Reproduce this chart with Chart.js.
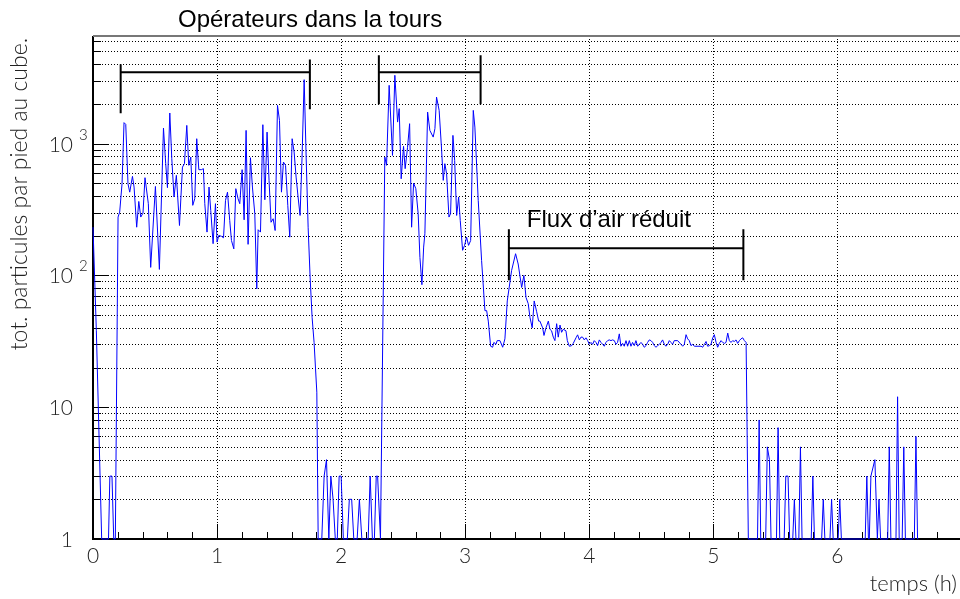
<!DOCTYPE html>
<html>
<head>
<meta charset="utf-8">
<script src="https://cdn.jsdelivr.net/npm/chart.js@4.4.1/dist/chart.umd.min.js"></script>
<style>
  html, body { margin: 0; padding: 0; background: #fff; }
  #wrap { width: 960px; height: 599px; position: relative; }
</style>
</head>
<body>
<div id="wrap"><canvas id="particles"></canvas></div>
<script>
// time (h) and total particle count per cubic foot; 0 = nothing counted
const hours = [
  0, 0.027, 0.07, 0.125, 0.136, 0.153, 0.167, 0.18,
  0.202, 0.215, 0.234, 0.250, 0.264, 0.282, 0.296, 0.318, 0.331, 0.352,
  0.369, 0.385, 0.403, 0.419, 0.446, 0.465, 0.503, 0.535, 0.568, 0.586,
  0.600, 0.619, 0.635, 0.653, 0.672, 0.697, 0.721, 0.737, 0.756, 0.772,
  0.788, 0.804, 0.820, 0.836, 0.853, 0.874, 0.890, 0.901, 0.919, 0.935,
  0.949, 0.968, 0.987, 1.000, 1.014, 1.035, 1.052, 1.068, 1.084, 1.102,
  1.116, 1.135, 1.151, 1.169, 1.183, 1.202, 1.218, 1.234, 1.250, 1.269,
  1.285, 1.304, 1.320, 1.331, 1.350, 1.369, 1.385, 1.403, 1.419, 1.435,
  1.452, 1.468, 1.487, 1.503, 1.519, 1.535, 1.552, 1.570, 1.586, 1.605,
  1.621, 1.637, 1.653, 1.669, 1.685, 1.702, 1.718, 1.734, 1.750, 1.766,
  1.782, 1.804, 1.815,
  1.844, 1.863, 1.882, 1.901, 1.917, 1.935, 1.953, 1.969, 1.984, 2.000,
  2.018, 2.050, 2.066, 2.085, 2.102, 2.129, 2.147, 2.167, 2.218, 2.234,
  2.252, 2.268, 2.283, 2.294, 2.317,
  2.352, 2.366, 2.387, 2.414, 2.433, 2.455, 2.468, 2.484, 2.503, 2.516,
  2.535, 2.552, 2.568, 2.584, 2.602, 2.621, 2.635, 2.651, 2.665, 2.675,
  2.697, 2.715, 2.742, 2.756, 2.769, 2.790, 2.810, 2.823, 2.836, 2.850,
  2.869, 2.882, 2.901, 2.915, 2.931, 2.947, 2.960, 2.979, 2.995, 3.011,
  3.027, 3.044, 3.065, 3.078, 3.105, 3.132, 3.159, 3.173, 3.186, 3.205,
  3.221, 3.231, 3.248, 3.258, 3.280, 3.302, 3.320, 3.339, 3.374, 3.406,
  3.427, 3.455, 3.473, 3.490, 3.508, 3.522, 3.540, 3.556, 3.576, 3.592,
  3.602, 3.624, 3.635, 3.651, 3.670, 3.683, 3.696, 3.710, 3.723, 3.737,
  3.750, 3.764, 3.777, 3.790, 3.812, 3.823, 3.839, 3.858, 3.871, 3.893,
  3.906, 3.920, 3.933, 3.946, 3.960, 3.973, 3.987, 4.000, 4.014, 4.027,
  4.040, 4.054, 4.067, 4.081, 4.094, 4.108, 4.121, 4.134, 4.148, 4.161,
  4.175, 4.188, 4.202, 4.215, 4.228, 4.242, 4.255, 4.269, 4.282, 4.296,
  4.309, 4.323, 4.336, 4.349, 4.363, 4.376, 4.390, 4.403, 4.417, 4.430,
  4.443, 4.457, 4.470, 4.484, 4.497, 4.511, 4.524, 4.538, 4.551, 4.565,
  4.578, 4.591, 4.605, 4.618, 4.632, 4.645, 4.659, 4.672, 4.685, 4.712,
  4.739, 4.753, 4.766, 4.780, 4.793, 4.806, 4.820, 4.833, 4.847, 4.901,
  4.914, 4.928, 4.941, 4.954, 4.968, 4.981, 4.995, 5.008, 5.022, 5.035,
  5.048, 5.062, 5.075, 5.089, 5.102, 5.116, 5.129, 5.142, 5.156, 5.169,
  5.183, 5.196, 5.210, 5.223, 5.237, 5.250, 5.264, 5.282,
  5.356, 5.369, 5.382, 5.422, 5.435, 5.452, 5.465, 5.509, 5.522, 5.535,
  5.571, 5.584, 5.602, 5.615, 5.640, 5.653, 5.666, 5.689, 5.702, 5.715,
  5.789, 5.802, 5.815, 5.873, 5.886, 5.899, 5.940, 5.953, 5.966, 6.006,
  6.019, 6.032, 6.224, 6.237, 6.250, 6.257, 6.270, 6.302, 6.322, 6.335,
  6.348, 6.405, 6.418, 6.431, 6.472, 6.485, 6.498, 6.522, 6.535, 6.548,
  6.620, 6.633, 6.646, 6.653
];
const counts = [
  232, 38, 0, 0, 3, 3, 0, 0,
  277, 302, 496, 1442, 1399, 496, 428, 564, 468, 232,
  364, 277, 297, 551, 350, 115, 473, 111, 1312, 704,
  463, 1706, 768, 393, 574, 239, 663, 704, 1374, 684,
  790, 340, 382, 1089, 634, 634, 645, 350, 213, 468,
  311, 174, 350, 179, 201, 198, 193, 371, 428, 261,
  184, 159, 455, 382, 350, 634, 264, 1259, 172, 781,
  468, 294, 79, 222, 213, 1391, 375, 1222, 526, 253,
  269, 219, 1950, 1500, 428, 724, 684, 340, 195, 1089,
  862, 557, 393, 285, 790, 3055, 790, 232, 97, 48,
  31, 13, 0,
  0, 3, 4, 0, 3, 2, 0, 0, 3, 3,
  0, 0, 2, 2, 0, 0, 2, 0, 0, 3,
  0, 0, 3, 3, 0,
  790, 684, 2767, 813, 3296, 1456, 1841, 541, 952, 645,
  931, 1416, 232, 501, 455, 294, 137, 85, 164, 207,
  1734, 1259, 1120, 1298, 2254, 1786, 888, 526, 704, 591,
  277, 294, 1154, 745, 285, 393, 261, 155, 169, 195,
  169, 184, 1786, 1334, 371, 130, 54, 54, 45, 29,
  28.5, 31, 30, 32, 32, 28.5, 33, 64, 109, 146,
  122, 81, 100, 68, 61, 48, 40, 64, 53, 45,
  45, 40, 35, 40, 45, 39, 38, 34, 32, 43,
  34, 42, 37, 39, 38, 32, 29, 29.3, 30.5, 33.6,
  35.4, 32.4, 34, 34, 32.4, 33.6, 32, 30, 31, 30,
  32, 31, 29.3, 32.4, 31, 30, 29, 31, 32, 32.4,
  32, 32.4, 32, 30, 31, 36, 29, 30.5, 29, 32,
  29, 32, 29, 31, 29.3, 32, 29, 30, 31, 30,
  28.5, 29.3, 31, 32.4, 32, 31, 29.3, 28.5, 29.3, 30,
  31, 32.4, 30, 29, 30, 32, 31, 30, 32, 32,
  30, 29, 30, 35.5, 33, 32, 29.3, 30, 29, 29,
  28.5, 30, 31.5, 29, 29.3, 30, 33.6, 35.5, 31, 28.5,
  30.5, 32, 31, 30.5, 31, 36.5, 32, 31, 32, 31.5,
  32.4, 30.5, 32, 33, 33.6, 32, 31, 0,
  0, 8, 0, 0, 5, 4, 0, 0, 7, 0,
  0, 3, 3, 0, 0, 2, 0, 0, 5, 0,
  0, 3, 0, 0, 2, 0, 0, 2, 0, 0,
  2, 0, 0, 3, 0, 0, 3, 4, 0, 2,
  0, 0, 5, 0, 0, 12, 0, 0, 5, 0,
  0, 6, 0, 0
];

const yMin = 1;
const yMax = 6550;
const xTicks = [0, 1, 2, 3, 4, 5, 6];
const yTicks = [
  { value: 1, base: '1', exp: '' },
  { value: 10, base: '10', exp: '' },
  { value: 100, base: '10', exp: '2' },
  { value: 1000, base: '10', exp: '3' }
];

const titleText = 'Opérateurs dans la tours';
const xTitle = 'temps (h)';
const yTitle = 'tot. particules par pied au cube.';

// bracket annotations: start/end time, level of the bar, span of each end cap
const brackets = [
  { from: 0.223, to: 1.748, level: 3470, capL: [1700, 3990], capR: [1820, 4350] },
  { from: 2.304, to: 3.124, level: 3470, capL: [1990, 4670], capR: [1990, 4670] },
  { from: 3.352, to: 5.242, level: 161, capL: [92, 224], capR: [92, 224] }
];
const fluxLabel = { text: 'Flux d’air réduit', at: 3.497, level: 232 };

// empty readings sit on the floor of the log axis
const points = hours.map((h, i) => ({ x: h, y: counts[i] > 0 ? counts[i] : yMin }));

const tickFont = '300 21px Lato, "DejaVu Sans", sans-serif';

const frame = {
  id: 'frame',
  beforeDatasetsDraw(chart) {
    const { ctx, chartArea: a, scales: { x, y } } = chart;
    ctx.save();
    // dotted grid
    ctx.strokeStyle = '#000';
    ctx.lineWidth = 1;
    ctx.setLineDash([1, 2]);
    for (let d = 1; d <= 1000; d *= 10) {
      for (let m = 1; m <= 9; m++) {
        const v = d * m;
        if (v <= 1 || v >= y.max) continue;
        const py = Math.round(y.getPixelForValue(v)) + 0.5;
        ctx.beginPath();
        ctx.moveTo(a.left, py);
        ctx.lineTo(a.right, py);
        ctx.stroke();
      }
    }
    xTicks.forEach(t => {
      if (t === 0) return;
      const px = Math.round(x.getPixelForValue(t)) + 0.5;
      ctx.beginPath();
      ctx.moveTo(px, a.top);
      ctx.lineTo(px, a.bottom);
      ctx.stroke();
    });
    ctx.setLineDash([]);

    // tick marks inside the frame
    ctx.lineWidth = 1;
    ctx.strokeStyle = '#000';
    for (let t = 0; t <= x.max + 1e-6; t += 0.2) {
      const px = Math.round(x.getPixelForValue(t)) + 0.5;
      const major = Math.abs(t - Math.round(t)) < 1e-6;
      ctx.beginPath();
      ctx.moveTo(px, a.bottom);
      ctx.lineTo(px, a.bottom - (major ? 15 : 7));
      ctx.stroke();
    }
    for (let d = 1; d <= 1000; d *= 10) {
      for (let m = 1; m <= 9; m++) {
        const v = d * m;
        if (v >= y.max) continue;
        const py = Math.round(y.getPixelForValue(v)) + 0.5;
        ctx.beginPath();
        ctx.moveTo(a.left, py);
        ctx.lineTo(a.left + (m === 1 ? 16 : 8), py);
        ctx.stroke();
      }
    }

    // axes and top edge
    ctx.lineWidth = 2;
    ctx.beginPath();
    ctx.moveTo(a.left, a.top);
    ctx.lineTo(a.left, a.bottom);
    ctx.lineTo(a.right + 2, a.bottom);
    ctx.stroke();
    ctx.strokeStyle = '#777';
    ctx.beginPath();
    ctx.moveTo(a.left, a.top);
    ctx.lineTo(a.right + 2, a.top);
    ctx.stroke();
    ctx.restore();
  },
  afterDatasetsDraw(chart) {
    const { ctx, chartArea: a, scales: { x, y } } = chart;
    ctx.save();

    // brackets
    ctx.strokeStyle = '#000';
    ctx.lineWidth = 2;
    brackets.forEach(b => {
      const x0 = x.getPixelForValue(b.from), x1 = x.getPixelForValue(b.to);
      const yl = y.getPixelForValue(b.level);
      ctx.beginPath();
      ctx.moveTo(x0, yl);
      ctx.lineTo(x1, yl);
      ctx.moveTo(x0, y.getPixelForValue(b.capL[0]));
      ctx.lineTo(x0, y.getPixelForValue(b.capL[1]));
      ctx.moveTo(x1, y.getPixelForValue(b.capR[0]));
      ctx.lineTo(x1, y.getPixelForValue(b.capR[1]));
      ctx.stroke();
    });

    ctx.fillStyle = '#000';
    ctx.textBaseline = 'alphabetic';
    ctx.textAlign = 'left';
    ctx.font = '24px "Liberation Sans", Arial, sans-serif';
    ctx.fillText(fluxLabel.text, x.getPixelForValue(fluxLabel.at), y.getPixelForValue(fluxLabel.level));
    ctx.fillText(titleText, 178, 27);

    // tick labels
    ctx.fillStyle = '#222';
    ctx.font = tickFont;
    ctx.textAlign = 'center';
    xTicks.forEach(t => {
      ctx.fillText(String(t), x.getPixelForValue(t), a.bottom + 24);
    });
    yTicks.forEach(t => {
      const py = y.getPixelForValue(t.value);
      ctx.textAlign = 'right';
      ctx.font = tickFont;
      ctx.fillText(t.base, 73, py + 8);
      if (t.exp) {
        ctx.textAlign = 'left';
        ctx.font = '300 15px Lato, "DejaVu Sans", sans-serif';
        ctx.fillText(t.exp, 79, py - 4);
      }
    });

    // axis titles
    ctx.font = '300 22px Lato, "DejaVu Sans", sans-serif';
    ctx.textAlign = 'right';
    ctx.fillText(xTitle, 957, 591);
    ctx.save();
    ctx.translate(27, 38);
    ctx.rotate(-Math.PI / 2);
    ctx.textAlign = 'right';
    ctx.font = '300 23px Lato, "DejaVu Sans", sans-serif';
    ctx.fillText(yTitle, 0, 0);
    ctx.restore();

    ctx.restore();
  }
};

new Chart(document.getElementById('particles'), {
  type: 'line',
  data: {
    datasets: [{
      data: points,
      borderColor: '#0000ff',
      borderWidth: 1,
      pointRadius: 0,
      tension: 0,
      clip: false
    }]
  },
  options: {
    responsive: true,
    maintainAspectRatio: false,
    animation: false,
    layout: { padding: { left: 93, top: 36, right: 1, bottom: 60 } },
    plugins: { legend: { display: false }, tooltip: { enabled: false } },
    scales: {
      x: { type: 'linear', min: 0, max: 6.98, display: false },
      y: { type: 'logarithmic', min: yMin, max: yMax, display: false }
    }
  },
  plugins: [frame]
});
</script>
</body>
</html>
